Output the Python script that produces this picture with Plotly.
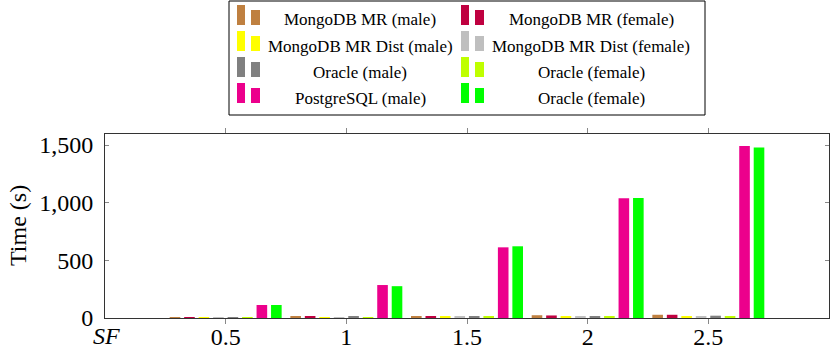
import plotly.graph_objects as go

# ---- data ----
sf = [0.5, 1.0, 1.5, 2.0, 2.5]
sf_labels = ["0.5", "1", "1.5", "2", "2.5"]
series_names = [
    "MongoDB MR (male)", "MongoDB MR (female)",
    "MongoDB MR Dist (male)", "MongoDB MR Dist (female)",
    "Oracle (male)", "Oracle (female)",
    "PostgreSQL (male)", "Oracle (female)",
]
mongo_mr_male = [8, 12, 17, 24, 28]
mongo_mr_female = [7, 11, 15, 22, 28]
mongo_dist_male = [5, 8, 10, 12, 14]
mongo_dist_female = [5, 8, 9, 10, 11]
oracle_male = [6, 10, 12, 14, 20]
oracle_female = [5, 7, 10, 12, 14]
postgres_male = [113, 286, 613, 1038, 1492]
oracle_female2 = [113, 276, 622, 1040, 1478]
series_values = [mongo_mr_male, mongo_mr_female, mongo_dist_male, mongo_dist_female,
                 oracle_male, oracle_female, postgres_male, oracle_female2]
colors = ["#bf8040", "#bf0040", "#ffff00", "#bfbfbf",
          "#808080", "#bfff00", "#ec008c", "#00ff00"]
y_ticks = [0, 500, 1000, 1500]
y_tick_labels = ["0", "500", "1,000", "1,500"]

W, H = 831, 361
PL, PR, PT, PB = 105, 829, 134, 318
FONT = "Liberation Serif"


def px(x):
    return (x - PL) / (PR - PL)


def py(y):
    return (PB - y) / (PB - PT)


fig = go.Figure()
for name, vals, col in zip(series_names, series_values, colors):
    fig.add_trace(go.Bar(x=sf, y=vals, name=name, marker=dict(color=col, line=dict(width=0)),
                         showlegend=False))

# ---- manual legend (pgfplots style, 2 columns) ----
shapes = []
annotations = []
shapes.append(dict(type="rect", xref="paper", yref="paper",
                   x0=px(229), x1=px(705), y0=py(115), y1=py(1),
                   line=dict(color="black", width=1), fillcolor="white", layer="above"))
col_icon_x = [237, 461]
col_text_x = [360, 591]
for i, (name, col) in enumerate(zip(series_names, colors)):
    r, c = divmod(i, 2)
    yc = 20 + 26 * r
    ix = col_icon_x[c]
    shapes.append(dict(type="rect", xref="paper", yref="paper",
                       x0=px(ix), x1=px(ix + 8), y0=py(yc + 5), y1=py(yc - 15),
                       line=dict(width=0), fillcolor=col, layer="above"))
    shapes.append(dict(type="rect", xref="paper", yref="paper",
                       x0=px(ix + 14), x1=px(ix + 23), y0=py(yc + 5), y1=py(yc - 10),
                       line=dict(width=0), fillcolor=col, layer="above"))
    annotations.append(dict(xref="paper", yref="paper", x=px(col_text_x[c]), y=py(yc),
                            text=name, showarrow=False, xanchor="center", yanchor="middle",
                            font=dict(family=FONT, size=17, color="black")))

annotations.append(dict(xref="paper", yref="paper", x=px(18), y=py(226), text="Time (s)",
                        textangle=-90, showarrow=False, xanchor="center", yanchor="middle",
                        font=dict(family=FONT, size=24, color="black")))
annotations.append(dict(xref="paper", yref="paper", x=px(106), y=py(336), text="<i>SF</i>",
                        showarrow=False, xanchor="center", yanchor="middle",
                        font=dict(family=FONT, size=24, color="black")))

fig.update_layout(
    template="none",
    width=W, height=H,
    margin=dict(l=PL, r=W - PR, t=PT, b=H - PB, pad=0, autoexpand=False),
    paper_bgcolor="white", plot_bgcolor="white",
    barmode="group", bargap=0.04, bargroupgap=0.267,
    font=dict(family=FONT, size=24, color="black"),
    shapes=shapes, annotations=annotations,
    xaxis=dict(range=[0, 3], tickvals=sf, ticktext=sf_labels, ticks="outside", ticklen=5,
               tickcolor="#888", showline=True, linecolor="#333", linewidth=1,
               mirror="allticks", showgrid=False, zeroline=False, automargin=False,
               ticklabelstandoff=-8, tickfont=dict(family=FONT, size=24)),
    yaxis=dict(range=[0, 1596], tickvals=y_ticks, ticktext=y_tick_labels, ticks="inside",
               ticklen=4, tickcolor="#888", showline=True, linecolor="#333", linewidth=1,
               mirror="allticks", showgrid=False, zeroline=False, automargin=False,
               ticklabelstandoff=6, tickfont=dict(family=FONT, size=24)),
)

fig.write_html("out.html", config={"displayModeBar": False},
               post_script="document.body.style.margin='0';document.body.style.overflow='hidden';")
